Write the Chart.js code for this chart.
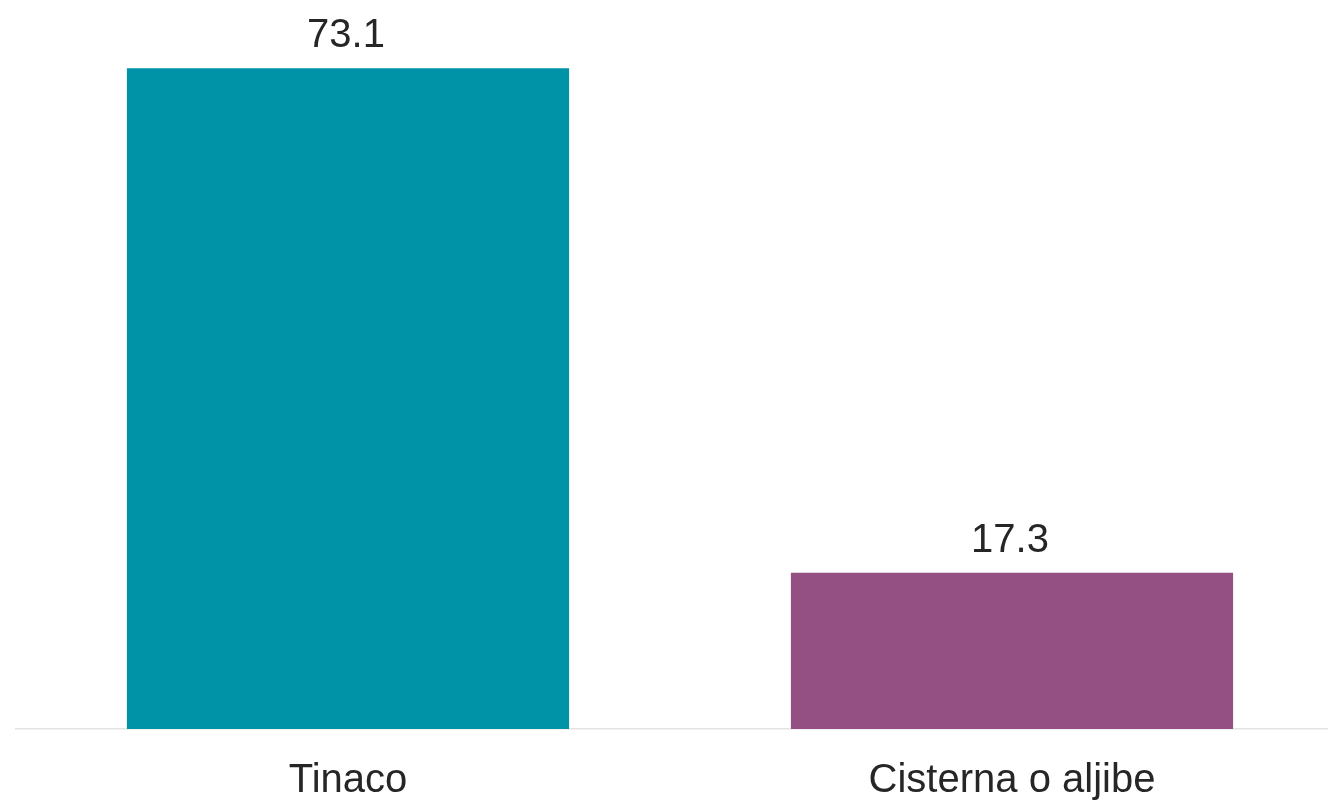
<!DOCTYPE html>
<html>
<head>
<meta charset="utf-8">
<script src="https://cdn.jsdelivr.net/npm/chart.js@4.4.1/dist/chart.umd.min.js"></script>
<style>
html, body { margin: 0; padding: 0; background: #ffffff; overflow: hidden; width: 1328px; height: 804px; }
#wrap { position: absolute; left: 0; top: 0; width: 1344px; height: 804px; }
canvas { display: block; }
</style>
</head>
<body>
<div id="wrap"><canvas id="c" width="1344" height="804"></canvas></div>
<script>
const categories = ["Tinaco", "Cisterna o aljibe"];
const values = [73.1, 17.3];
const barColors = ["#0093A8", "#955083"];

const valueLabels = {
  id: 'valueLabels',
  afterDatasetsDraw(chart) {
    const ctx = chart.ctx;
    const meta = chart.getDatasetMeta(0);
    ctx.save();
    ctx.font = '40px "Liberation Sans", Arial, sans-serif';
    ctx.fillStyle = '#262626';
    ctx.textAlign = 'center';
    ctx.textBaseline = 'alphabetic';
    meta.data.forEach((bar, i) => {
      ctx.fillText(values[i].toFixed(1), bar.x - 2, bar.y - 21);
    });
    ctx.restore();
  }
};

new Chart(document.getElementById('c'), {
  type: 'bar',
  data: {
    labels: categories,
    datasets: [{
      data: values,
      backgroundColor: barColors,
      borderWidth: 0,
      categoryPercentage: 1.0,
      barPercentage: 0.666
    }]
  },
  options: {
    responsive: false,
    animation: false,
    devicePixelRatio: 1,
    layout: { padding: { left: 16, right: 0, top: 6, bottom: 0 } },
    plugins: { legend: { display: false }, tooltip: { enabled: false } },
    scales: {
      x: {
        grid: { display: false, drawTicks: false },
        border: { display: true, color: '#e3e3e3', width: 1.5 },
        ticks: {
          padding: 28,
          color: '#262626',
          font: { family: '"Liberation Sans", Arial, sans-serif', size: 40 }
        },
        afterFit(scale) { scale.height = 75; }
      },
      y: {
        display: false,
        min: 0,
        max: 80
      }
    }
  },
  plugins: [valueLabels]
});
</script>
</body>
</html>
